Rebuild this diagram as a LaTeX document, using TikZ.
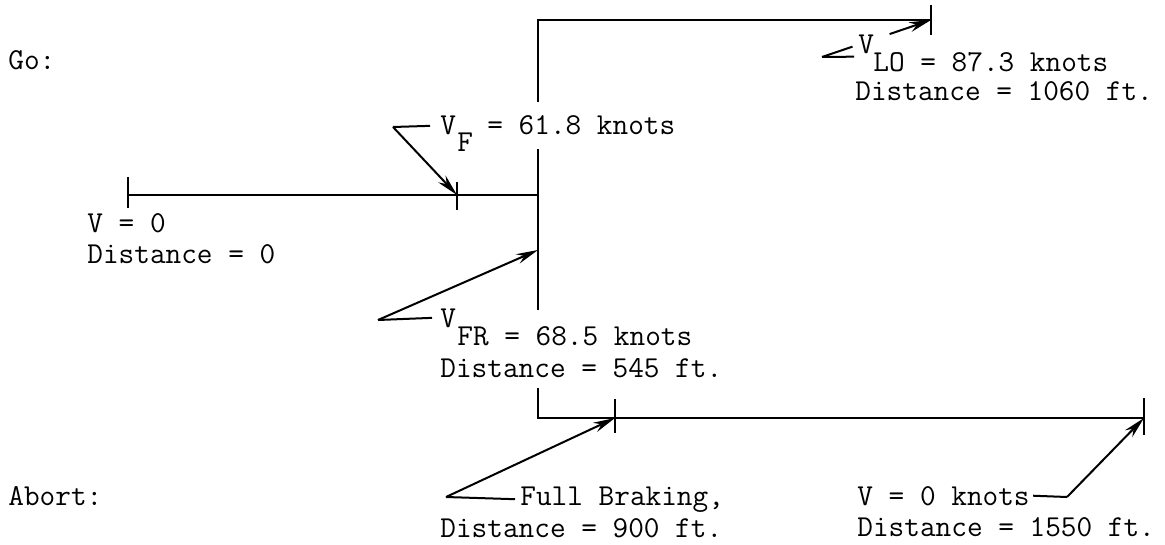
\documentclass[tikz,border=0pt]{standalone}
\usepackage{tikz}
\usetikzlibrary{arrows.meta,calc}
\begin{document}
\begin{tikzpicture}[x=0.5pt, y=-0.5pt,
  track/.style={line width=1.2pt},
  tickmark/.style={line width=1.2pt},
  lead/.style={line width=1pt, -{Stealth[length=11pt,width=5pt]}},
  stub/.style={line width=1pt},
  txt/.style={anchor=base west, inner sep=0pt,
              font=\ttfamily\fontsize{15.2}{16}\selectfont}]
\useasboundingbox (0,0) rectangle (1165,545);
\node[txt] (go) at (8,70) {Go:};
\node[txt] (abort) at (8,505) {Abort:};
% go track
\coordinate (start) at (128,195);
\coordinate (vf) at (457,195);
\coordinate (fork) at (538,195);
\coordinate (vfr) at (538,250);
\coordinate (goTop) at (538,20);
\coordinate (vlo) at (931,20);
% abort track
\coordinate (abTop) at (538,388);
\coordinate (abCorner) at (538,418);
\coordinate (brake) at (615,418);
\coordinate (stop) at (1144,418);
\draw[track] (start) -- (fork);
\draw[track] (538,102) -- (goTop) -- (vlo);
\draw[track] (538,149) -- (538,310);
\draw[track] (abTop) -- (abCorner) -- (stop);
\draw[tickmark] ([yshift=9pt]start) -- ([yshift=-6.5pt]start);
\draw[tickmark] ([yshift=6.5pt]vf) -- ([yshift=-7.5pt]vf);
\draw[tickmark] ([yshift=7.5pt]vlo) -- ([yshift=-7.5pt]vlo);
\draw[tickmark] ([yshift=9.5pt]brake) -- ([yshift=-7.5pt]brake);
\draw[tickmark] ([yshift=10pt]stop) -- ([yshift=-8.5pt]stop);
% labels
\node[txt] (v0) at (87,232) {V = 0};
\node[txt] (d0) at (87,263) {Distance = 0};
\node[txt] (vfV) at (440,135) {V};
\node[txt] (vfSub) at (457,152) {F};
\node[txt] (vfVal) at (487,135) {= 61.8 knots};
\node[txt] (vfrV) at (440,327) {V};
\node[txt] (vfrVal) at (457,345) {FR = 68.5 knots};
\node[txt] (vfrDist) at (440,377) {Distance = 545 ft.};
\node[txt] (vloV) at (858,54) {V};
\node[txt] (vloVal) at (873,72) {LO = 87.3 knots};
\node[txt] (vloDist) at (855,101) {Distance = 1060 ft.};
\node[txt] (fb) at (520,505) {Full Braking,};
\node[txt] (fbDist) at (440,537) {Distance = 900 ft.};
\node[txt] (vz) at (857,505) {V = 0 knots};
\node[txt] (vzDist) at (857,536) {Distance = 1550 ft.};
% leaders
\coordinate (vfK) at (393,127);
\coordinate (vfrK) at (378,320);
\coordinate (vloK) at (822,57);
\coordinate (fbK) at (446,497);
\coordinate (vzK) at (1067,497);
\draw[stub] ([xshift=-5pt]vfV.west) -- (vfK);
\draw[lead] (vfK) -- (vf);
\draw[stub] ([xshift=-4pt]vfrV.west) -- (vfrK);
\draw[lead] (vfrK) -- (vfr);
\draw[stub] ([xshift=-2pt,yshift=-1pt]vloV.south west) -- (vloK);
\draw[stub] (vloK) -- ($(vloK)!0.28!(vlo)$);
\draw[lead] ($(vloK)!0.62!(vlo)$) -- (vlo);
\draw[stub] ([xshift=-2.5pt]fb.west) -- (fbK);
\draw[lead] (fbK) -- (brake);
\draw[stub] ([xshift=1.5pt]vz.east) -- (vzK);
\draw[lead] (vzK) -- (stop);
\end{tikzpicture}
\end{document}
